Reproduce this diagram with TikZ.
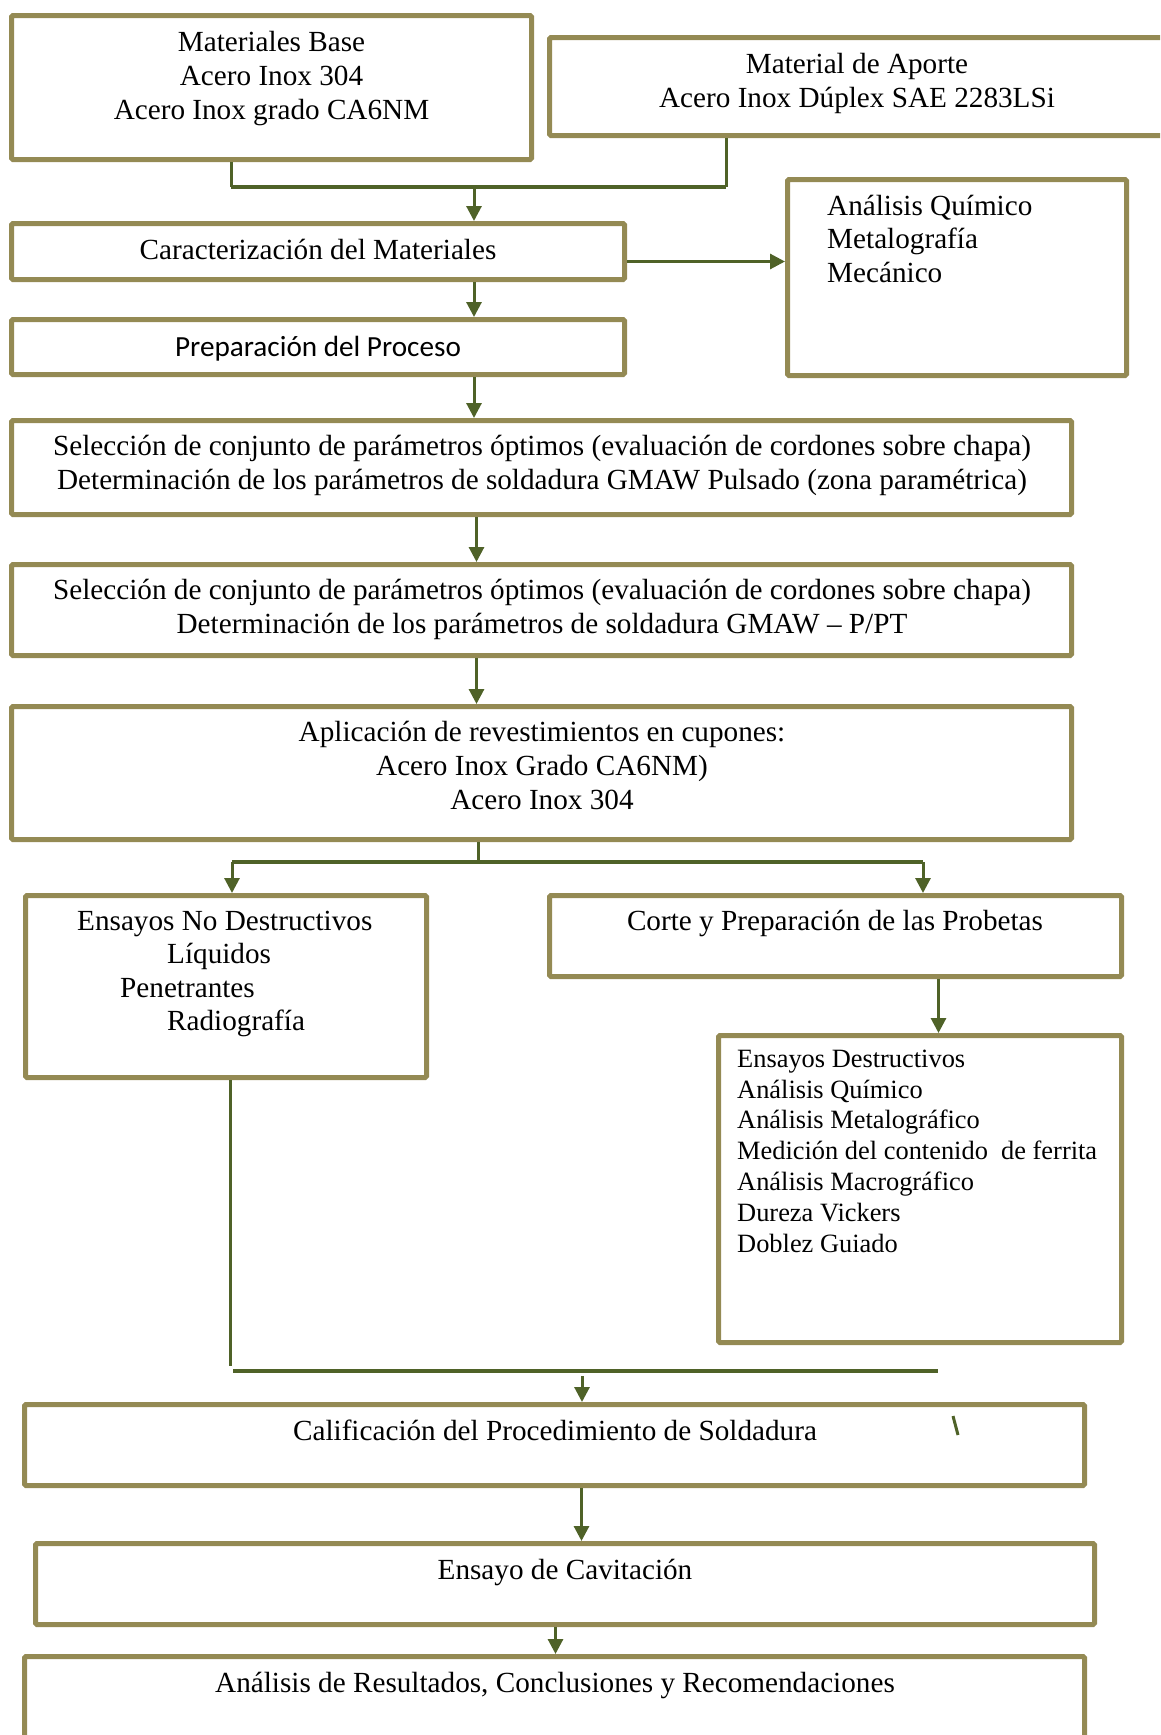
\documentclass[tikz,border=0pt]{standalone}
\usepackage{fontspec}
\setmainfont{Liberation Serif}
\newfontfamily\calibri{Carlito}
\usepackage{tikz}
\usetikzlibrary{arrows.meta,calc}
\definecolor{boxolive}{HTML}{948A54}
\definecolor{linegreen}{HTML}{4F6228}

\begin{document}
\begin{tikzpicture}[x=1pt, y=-1pt,
  box/.style={draw=boxolive, line width=5pt, rounded corners=1.5pt, inner sep=0pt},
  txt/.style={inner sep=0pt, align=center, anchor=base, font=\fontsize{29.2}{34}\selectfont},
  lst/.style={inner sep=0pt, align=left, anchor=base west, font=\fontsize{29.2}{33.5}\selectfont},
  line/.style={draw=linegreen, line width=3pt},
  bar/.style={draw=linegreen, line width=4pt},
  arr/.style={line, -{Triangle[width=15pt,length=15pt]}}]
\clip (0,0) rectangle (1160,1735);
% boxes
\node[box, minimum width=520pt, minimum height=144pt] (matbase) at (271.5,87.5) {};
\node[box, minimum width=616pt, minimum height=98pt] (aporte) at (857.5,86.5) {};
\node[box, minimum width=613pt, minimum height=56pt] (caract) at (318,251.5) {};
\node[box, minimum width=339pt, minimum height=196pt] (analisis) at (957,277.5) {};
\node[box, minimum width=613pt, minimum height=55pt] (prepara) at (318,347) {};
\node[box, minimum width=1060pt, minimum height=94pt] (seleccion) at (541.5,467.5) {};
\node[box, minimum width=1060pt, minimum height=91pt] (determina) at (541.5,610) {};
\node[box, minimum width=1060pt, minimum height=133pt] (aplica) at (541.5,773) {};
\node[box, minimum width=401pt, minimum height=182pt] (nodestr) at (226,986.5) {};
\node[box, minimum width=572pt, minimum height=81pt] (corte) at (835.5,936) {};
\node[box, minimum width=403pt, minimum height=307pt] (destr) at (920,1189) {};
\node[box, minimum width=1060pt, minimum height=81pt] (califica) at (554.5,1445) {};
\node[box, minimum width=1059pt, minimum height=81pt] (cavita) at (565,1584) {};
\node[box, minimum width=1060pt, minimum height=121pt] (resultados) at (554.5,1717) {};
% texts (multi-line ones sit on their last baseline)
\node[txt] (t-matbase) at (271.5,119) {Materiales Base\\Acero Inox 304\\Acero Inox grado CA6NM};
\node[txt] (t-aporte) at (857,107.5) {Material de Aporte\\Acero Inox Dúplex SAE 2283LSi};
\node[txt] (t-caract) at (318,259) {Caracterización del Materiales};
\node[lst] (t-analisis) at (827,282) {Análisis Químico\\Metalografía\\Mecánico};
\node[txt, font=\calibri\fontsize{29.2}{34}\selectfont] (t-prepara) at (318,356) {Preparación del Proceso};
\node[txt] (t-seleccion) at (542,489) {Selección de conjunto de parámetros óptimos (evaluación de cordones sobre chapa)\\Determinación de los parámetros de soldadura GMAW Pulsado (zona paramétrica)};
\node[txt] (t-determina) at (542,633) {Selección de conjunto de parámetros óptimos (evaluación de cordones sobre chapa)\\Determinación de los parámetros de soldadura GMAW -- P/PT};
\node[txt] (t-aplica) at (542,809) {Aplicación de revestimientos en cupones:\\Acero Inox Grado CA6NM)\\Acero Inox 304};
\node[lst] (t-nodestr) at (77,1030.5) {Ensayos No Destructivos\\\hspace*{90pt}Líquidos\\\hspace*{43pt}Penetrantes\\\hspace*{90pt}Radiografía};
\node[txt] (t-corte) at (835,930) {Corte y Preparación de las Probetas};
\node[lst, font=\fontsize{26.4}{30.8}\selectfont] (t-destr) at (737,1252) {Ensayos Destructivos\\Análisis Químico\\Análisis Metalográfico\\Medición del contenido\ \ de ferrita\\Análisis Macrográfico\\Dureza Vickers\\Doblez Guiado};
\node[txt] (t-califica) at (555,1440) {Calificación del Procedimiento de Soldadura};
\node[txt] (t-cavita) at (565,1579) {Ensayo de Cavitación};
\node[txt] (t-resultados) at (555,1692) {Análisis de Resultados, Conclusiones y Recomendaciones};
% junctions
\coordinate (ja) at (231,187);
\coordinate (jb) at (726,187);
\coordinate (j1) at (474,187);
\coordinate (k1) at (232,862);
\coordinate (k2) at (923,862);
\coordinate (m0) at (230,1366);
\coordinate (m1) at (233,1371);
\coordinate (m2) at (938,1371);
\coordinate (m3) at (582,1376);
% connectors
\draw[line] (matbase.south -| ja) -- (ja);
\draw[line] (aporte.south -| jb) -- (jb);
\draw[bar] (ja) -- (jb);
\draw[arr] (j1) -- (caract.north -| j1);
\draw[arr] ([yshift=-10pt]caract.east) -- ([yshift=-10pt]caract.east -| analisis.west);
\draw[arr] (caract.south -| j1) -- (prepara.north -| j1);
\draw[arr] (prepara.south -| j1) -- (seleccion.north -| j1);
\draw[arr] ([xshift=-65pt]seleccion.south) -- ([xshift=-65pt]determina.north);
\draw[arr] ([xshift=-65pt]determina.south) -- ([xshift=-65pt]aplica.north);
\draw[line] ([xshift=-63pt]aplica.south) -- ([xshift=-63pt]aplica.south |- k1);
\draw[bar] (k1) -- (k2);
\draw[arr] (k1) -- (nodestr.north -| k1);
\draw[arr] (k2) -- (corte.north -| k2);
\draw[arr] ([xshift=103pt]corte.south) -- ([xshift=103pt]corte.south |- destr.north);
\draw[line] (nodestr.south -| m0) -- (m0);
\draw[bar] (m1) -- (m2);
\draw[arr] (m3) -- (califica.north -| m3);
\draw[arr] ([xshift=27pt]califica.south) -- ([xshift=27pt]califica.south |- cavita.north);
\draw[arr] ([xshift=-9.5pt]cavita.south) -- ([xshift=-9.5pt]cavita.south |- resultados.north);
\draw[line] (953,1416) -- (958,1435);
\end{tikzpicture}
\end{document}
